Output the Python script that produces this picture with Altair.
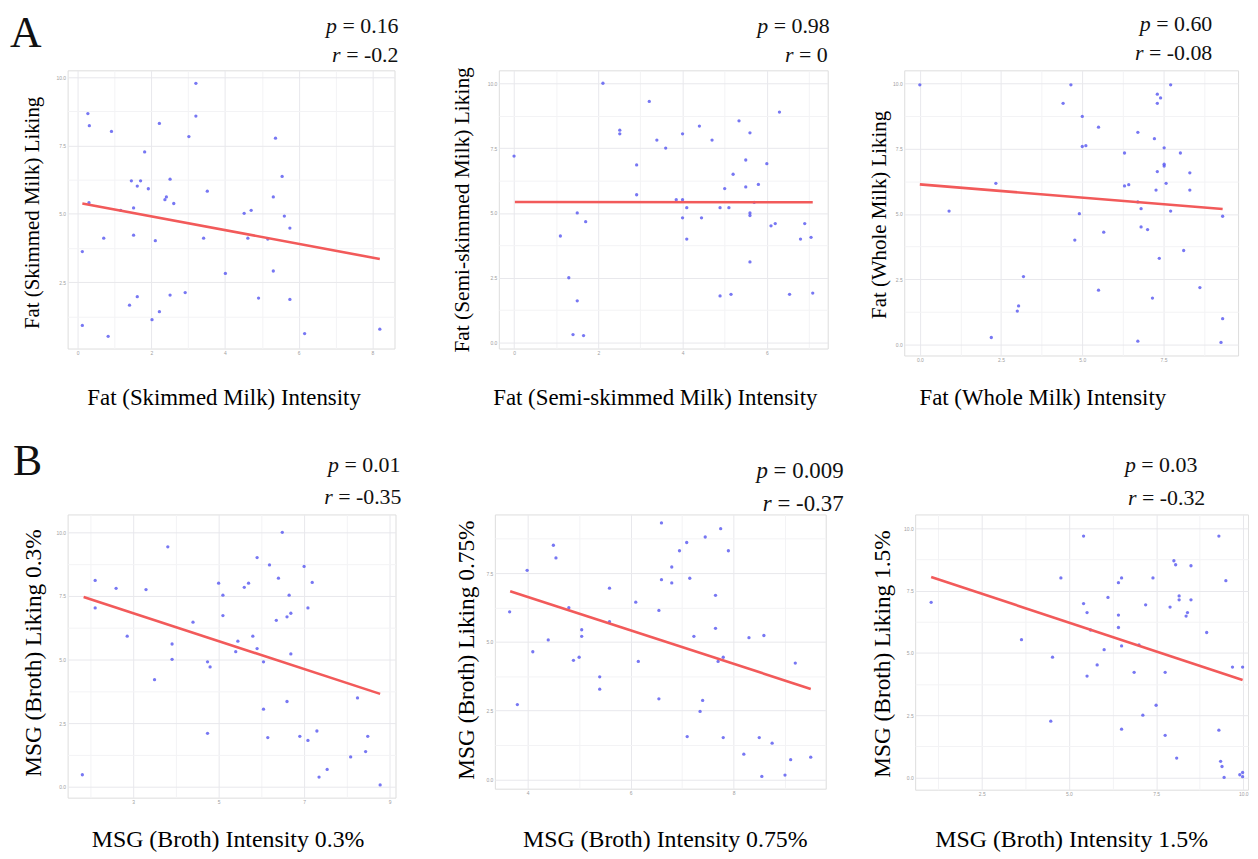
import json
import altair as alt
import pandas as pd

# ---------------- data ----------------
# Panel A1: Fat (Skimmed Milk)
a1_x = [3.21, 0.28, 0.32, 3.21, 2.22, 0.92, 3.02, 5.37, 1.82, 5.55, 2.51, 1.46, 1.71, 1.62, 1.92, 3.52,
        2.41, 2.37, 5.31, 0.31, 2.61, 1.52, 1.17, 4.71, 4.52, 5.61, 5.76, 0.71, 1.52, 2.11, 3.42, 4.62,
        5.16, 0.13, 4.01, 5.31, 2.92, 2.51, 1.62, 4.91, 5.76, 1.41, 2.22, 2.02, 0.13, 0.83, 6.16, 8.2]
a1_y = [9.78, 8.67, 8.23, 8.58, 8.31, 8.02, 7.83, 7.77, 7.27, 6.37, 6.27, 6.21, 6.21, 6.02, 5.92, 5.83,
        5.62, 5.52, 5.62, 5.41, 5.38, 5.22, 5.13, 5.13, 5.02, 4.92, 4.48, 4.11, 4.22, 4.02, 4.11, 4.11,
        4.08, 3.62, 2.82, 2.91, 2.12, 2.03, 1.97, 1.92, 1.87, 1.66, 1.42, 1.13, 0.92, 0.52, 0.62, 0.78]
a1_fit_x = [0.13, 8.2]
a1_fit_y = [5.38, 3.35]

# Panel A2: Fat (Semi-skimmed Milk)
a2_x = [2.11, 3.21, 6.30, 4.40, 5.34, 2.51, 2.51, 4.0, 5.60, 3.39, 4.70, 3.60, 0.0, 5.50, 6.0, 2.91,
        5.20, 5.50, 5.0, 5.80, 2.91, 3.85, 4.0, 5.70, 4.10, 4.89, 5.10, 1.50, 5.60, 5.60, 4.0, 4.45,
        1.70, 6.20, 6.90, 6.10, 1.10, 4.10, 6.80, 7.05, 5.60, 1.30, 1.50, 4.89, 5.15, 6.54, 7.09, 1.40, 1.65]
a2_y = [10.0, 9.30, 8.89, 8.35, 8.55, 8.19, 8.05, 8.05, 8.09, 7.81, 7.81, 7.50, 7.19, 7.04, 6.90, 6.85,
        6.49, 6.0, 5.94, 6.10, 5.70, 5.51, 5.51, 5.41, 5.20, 5.20, 5.20, 5.0, 5.0, 4.90, 4.81, 4.81,
        4.66, 4.59, 4.59, 4.50, 4.11, 3.99, 3.99, 4.06, 3.11, 2.50, 1.61, 1.80, 1.86, 1.86, 1.91, 0.31, 0.27]
a2_fit_x = [0.02, 7.09]
a2_fit_y = [5.42, 5.41]

# Panel A3: Fat (Whole Milk)
a3_x = [0.0, 4.65, 7.72, 7.31, 7.41, 4.41, 7.31, 5.0, 5.50, 6.71, 7.22, 5.0, 5.11, 7.52, 6.30, 8.02,
        7.52, 7.52, 7.31, 8.31, 2.34, 7.58, 6.43, 6.30, 7.27, 8.31, 6.71, 6.81, 0.90, 4.91, 7.72, 9.32,
        6.81, 7.01, 5.66, 4.77, 8.12, 7.37, 3.19, 5.50, 8.62, 7.16, 3.04, 3.0, 9.32, 2.20, 6.71, 9.27]
a3_y = [9.94, 9.94, 9.94, 9.58, 9.44, 9.23, 9.23, 8.73, 8.32, 8.12, 7.88, 7.58, 7.61, 7.53, 7.33, 7.33,
        6.90, 6.83, 6.62, 6.57, 6.17, 6.17, 6.12, 6.07, 5.91, 5.91, 5.46, 5.20, 5.11, 5.01, 5.11, 4.91,
        4.50, 4.40, 4.30, 4.0, 3.60, 3.30, 2.60, 2.08, 2.18, 1.78, 1.48, 1.28, 0.99, 0.27, 0.13, 0.08]
a3_fit_x = [0.0, 9.32]
a3_fit_y = [6.13, 5.19]

# Panel B1: MSG (Broth) 0.3%
b1_x = [6.49, 3.81, 5.90, 6.19, 7.0, 6.40, 2.11, 5.0, 5.70, 7.19, 5.60, 2.60, 3.30, 5.10, 6.65, 2.11,
        7.09, 6.69, 6.60, 5.10, 6.35, 4.40, 2.86, 5.80, 5.45, 3.91, 5.90, 5.40, 6.69, 3.91, 4.74, 6.05,
        4.80, 3.50, 8.25, 6.60, 6.05, 4.74, 7.30, 6.90, 6.15, 7.09, 8.49, 8.44, 8.09, 7.54, 7.35, 1.81, 8.78]
b1_y = [10.0, 9.43, 9.01, 8.72, 8.66, 8.20, 8.11, 8.0, 8.0, 8.03, 7.84, 7.80, 7.75, 7.53, 7.53, 7.03,
        7.03, 6.82, 6.68, 6.73, 6.54, 6.47, 5.92, 5.92, 5.72, 5.61, 5.43, 5.31, 5.22, 5.01, 4.91, 4.91,
        4.71, 4.21, 3.49, 3.35, 3.05, 2.10, 2.19, 1.98, 1.93, 1.82, 1.98, 1.38, 1.17, 0.68, 0.38, 0.47, 0.07]
b1_fit_x = [1.84, 8.78]
b1_fit_y = [7.46, 3.65]

# Panel B2: MSG (Broth) 0.75%
b2_x = [6.60, 7.75, 7.45, 7.09, 4.50, 7.90, 6.95, 4.55, 6.80, 3.99, 6.60, 7.15, 6.80, 5.59, 7.65, 6.10,
        6.55, 3.65, 4.80, 5.59, 7.65, 5.05, 5.05, 7.23, 8.30, 8.59, 4.40, 4.10, 5.0, 4.89, 7.80, 7.70,
        6.15, 9.20, 5.40, 5.40, 6.55, 7.40, 3.80, 7.35, 7.10, 7.80, 8.50, 8.75, 8.20, 9.50, 9.11, 8.55, 9.0]
b2_y = [9.32, 9.11, 8.81, 8.61, 8.51, 8.31, 8.31, 8.05, 7.72, 7.60, 7.26, 7.31, 7.14, 6.95, 6.69, 6.44,
        6.14, 6.09, 6.24, 5.73, 5.49, 5.44, 5.20, 5.20, 5.15, 5.23, 5.07, 4.64, 4.44, 4.33, 4.44, 4.29,
        4.29, 4.23, 3.73, 3.28, 2.93, 2.87, 2.72, 2.47, 1.56, 1.52, 1.52, 1.32, 0.92, 0.81, 0.72, 0.11, 0.16]
b2_fit_x = [3.66, 9.50]
b2_fit_y = [6.84, 3.29]

# Panel B3: MSG (Broth) 1.5%
b3_x = [5.42, 9.30, 8.01, 8.06, 8.50, 4.77, 6.51, 7.41, 6.42, 9.50, 8.16, 8.16, 8.50, 1.05, 6.12, 5.42,
        7.20, 7.90, 5.52, 8.40, 8.36, 6.42, 6.42, 5.62, 8.95, 3.64, 7.01, 6.51, 6.01, 4.53, 5.81, 9.69,
        9.98, 6.87, 7.76, 5.52, 7.50, 7.12, 4.48, 6.51, 9.30, 7.76, 8.09, 9.35, 9.39, 9.45, 9.90, 9.98, 9.98]
b3_y = [9.69, 9.69, 8.70, 8.54, 8.50, 8.01, 8.01, 8.01, 7.82, 7.90, 7.29, 7.13, 7.13, 7.03, 7.23, 6.98,
        6.93, 6.84, 6.62, 6.62, 6.48, 6.52, 6.02, 5.92, 5.82, 5.53, 5.32, 5.28, 5.13, 4.83, 4.52, 4.43,
        4.43, 4.22, 4.22, 4.07, 2.90, 2.50, 2.26, 1.94, 1.90, 1.69, 0.78, 0.65, 0.44, 0.0, 0.11, 0.20, 0.03]
b3_fit_x = [1.05, 9.98]
b3_fit_y = [8.05, 3.91]

x_titles = ["Fat (Skimmed Milk) Intensity", "Fat (Semi-skimmed Milk) Intensity", "Fat (Whole Milk) Intensity",
            "MSG (Broth) Intensity 0.3%", "MSG (Broth) Intensity 0.75%", "MSG (Broth) Intensity 1.5%"]
y_titles = ["Fat (Skimmed Milk) Liking", "Fat (Semi-skimmed Milk) Liking", "Fat (Whole Milk) Liking",
            "MSG (Broth) Liking 0.3%", "MSG (Broth) Liking 0.75%", "MSG (Broth) Liking 1.5%"]
p_values = ["0.16", "0.98", "0.60", "0.01", "0.009", "0.03"]
r_values = ["-0.2", "0", "-0.08", "-0.35", "-0.37", "-0.32"]

# grid / tick values
grid_1 = [1.25 * k for k in range(0, 9)]          # 0 .. 10 by 1.25
major_25 = [0, 2.5, 5.0, 7.5, 10.0]
x_grids = [list(range(0, 9)), list(range(0, 8)), [1.25 * k for k in range(0, 8)],
           list(range(2, 10)), list(range(4, 10)), [1.25 * k for k in range(1, 9)]]
x_majors = [[0, 2, 4, 6, 8], [0, 2, 4, 6], [0, 2.5, 5.0, 7.5],
            [3, 5, 7, 9], [4, 6, 8], [2.5, 5.0, 7.5, 10.0]]
x_fmts = [".0f", ".0f", ".1f", ".0f", ".0f", ".1f"]

# ---------------- layout (page pixel geometry) ----------------
SERIF = "Liberation Serif"
PT_COLOR = "#5555f0"
LINE_COLOR = "#f25a5a"
ANN_SIZE = [22, 22, 22, 22, 23, 22]
YTITLE_SIZE = [21, 21.5, 21, 23.5, 23.5, 23.5]
XTITLE_SIZE = [23, 23, 23, 24, 24, 24]

# per panel: plot box (page px), x map (value, page px, px/unit), y map (value, page px, px/unit)
geo = [
    dict(l=67, r=396, t=67, b=347, xm=(0, 77, 37.1), ym=(10, 74, 27.5)),
    dict(l=499, r=830, t=67, b=347, xm=(0, 514.3, 42.4), ym=(10, 80, 26.1)),
    dict(l=905, r=1241, t=67, b=354, xm=(0, 920.7, 32.7), ym=(10, 80, 26.3)),
    dict(l=64, r=394, t=512, b=797, xm=(3, 130, 43.0), ym=(10, 530, 25.6)),
    dict(l=492, r=825, t=512, b=788, xm=(4, 525, 51.8), ym=(0, 778.7, 27.7)),
    dict(l=913, r=1248, t=512, b=789, xm=(2.5, 980, 35.1), ym=(10, 526, 25.07)),
]
# anchors: left/right page x of each cell, top/bottom page y of each row
cell_x = [(8, 406), (406, 838), (838, 1246), (8, 404), (404, 845), (845, 1249)]
row_y = [(8, 430), (430, None)]
# title centres (page px)
xt_pos = [(224, 396), (656, 396), (1044, 396), (225, 839), (663, 839), (1070, 839)]
yt_pos = [(32, 210), (462, 207), (880, 212), (30, 651), (463, 648), (880, 652)]
# annotation right edges and centre lines (page px): (p_right, p_y, r_right, r_y)
ann_pos = [(400, 22, 400, 52), (832, 22, 830, 52), (1215, 20, 1215, 50),
           (399, 462, 400, 494), (843, 468, 843, 502), (1197, 462, 1205, 495)]
letters = {0: ("A", 9, 31), 3: ("B", 9, 459)}

TW = {"=": 0.564, " ": 0.25, ".": 0.25, "-": 0.333}


def text_width(s, size):
    return sum(TW.get(c, 0.5) for c in s) * size


def is_major(majors):
    return "indexof(%s, datum.value) >= 0" % json.dumps(majors)


def make_axis(values, majors, fmt, title, tx, ty, angle, size):
    test = is_major(majors)
    return alt.Axis(
        values=values,
        tickCount=100,
        labelExpr="%s ? format(datum.value, '%s') : ''" % (test, fmt),
        grid=True,
        gridColor={"condition": {"test": test, "value": "#e8e8ec"}, "value": "#f3f3f5"},
        gridWidth=1,
        ticks=False, domain=False,
        labelFontSize=5, labelColor="#a0a0a0", labelPadding=2,
        labelOverlap=False, labelFlush=False,
        title=title, titleFont=SERIF, titleFontSize=size, titleFontWeight="normal",
        titleColor="#000000", titleX=tx, titleY=ty, titleAlign="center",
        titleBaseline="middle", titleAngle=angle,
    )


xs = [a1_x, a2_x, a3_x, b1_x, b2_x, b3_x]
ys = [a1_y, a2_y, a3_y, b1_y, b2_y, b3_y]
fxs = [a1_fit_x, a2_fit_x, a3_fit_x, b1_fit_x, b2_fit_x, b3_fit_x]
fys = [a1_fit_y, a2_fit_y, a3_fit_y, b1_fit_y, b2_fit_y, b3_fit_y]

one = pd.DataFrame({"k": [0]})


def within(vals, dom):
    return [v for v in vals if dom[0] <= v <= dom[1]]


def panel(i):
    g = geo[i]
    w = g["r"] - g["l"]
    h = g["b"] - g["t"]
    xv, xp, xu = g["xm"]
    yv, yp, yu = g["ym"]
    xdom = [xv + (g["l"] - xp) / xu, xv + (g["r"] - xp) / xu]
    ydom = [yv - (g["b"] - yp) / yu, yv + (yp - g["t"]) / yu]

    xax = make_axis(within(x_grids[i], xdom), x_majors[i], x_fmts[i], x_titles[i],
                    xt_pos[i][0] - g["l"], xt_pos[i][1] - g["b"], 0, XTITLE_SIZE[i])
    yax = make_axis(within(grid_1, ydom), major_25, ".1f", y_titles[i],
                    yt_pos[i][0] - g["l"], yt_pos[i][1] - g["t"], 270, YTITLE_SIZE[i])

    X = alt.X("x:Q", scale=alt.Scale(domain=xdom, nice=False, zero=False), axis=xax)
    Y = alt.Y("y:Q", scale=alt.Scale(domain=ydom, nice=False, zero=False), axis=yax)

    pts = alt.Chart(pd.DataFrame({"x": xs[i], "y": ys[i]})).mark_circle(
        size=11, color=PT_COLOR, opacity=0.8).encode(x=X, y=Y)
    fit = alt.Chart(pd.DataFrame({"x": fxs[i], "y": fys[i]})).mark_line(
        color=LINE_COLOR, strokeWidth=2.6).encode(x="x:Q", y="y:Q")
    layers = [pts, fit]

    fs = ANN_SIZE[i]
    pr, py_, rr, ry = ann_pos[i]
    for letter, val, R, yc in (("p", p_values[i], pr, py_), ("r", r_values[i], rr, ry)):
        rest = "= " + val
        layers.append(alt.Chart(one).mark_text(
            text=rest, align="right", baseline="middle", font=SERIF, fontSize=fs,
            color="#111111").encode(x=alt.value(R - g["l"]), y=alt.value(yc - g["t"])))
        off = text_width(rest, fs) + 0.25 * fs
        layers.append(alt.Chart(one).mark_text(
            text=letter, align="right", baseline="middle", font=SERIF, fontSize=fs,
            fontStyle="italic", color="#111111").encode(
            x=alt.value(R - g["l"] - off), y=alt.value(yc - g["t"])))

    if i in letters:
        s, lx, ly = letters[i]
        layers.append(alt.Chart(one).mark_text(
            text=s, align="left", baseline="middle", font=SERIF, fontSize=44,
            color="#111111").encode(x=alt.value(lx - g["l"]), y=alt.value(ly - g["t"])))

    # invisible layout anchors (white hairlines in the margins)
    top_y, bot_y = row_y[0] if i < 3 else row_y[1]
    y_top = top_y - g["t"]
    y_bot = (bot_y - g["t"]) if bot_y is not None else h
    for ax_ in cell_x[i]:
        layers.append(alt.Chart(one).mark_rule(color="white", strokeWidth=0.3).encode(
            x=alt.value(ax_ - g["l"]), y=alt.value(y_top), y2=alt.value(y_bot)))

    return alt.layer(*layers).properties(width=w, height=h)


row_a = alt.hconcat(panel(0), panel(1), panel(2), spacing=0)
row_b = alt.hconcat(panel(3), panel(4), panel(5), spacing=0)

chart = alt.vconcat(row_a, row_b, spacing=0).properties(
    padding={"left": 0, "top": 0, "right": 0, "bottom": 0}
).configure_view(stroke=None).configure(background="white")

chart.save("out.html", embed_options={"renderer": "svg", "actions": False})
